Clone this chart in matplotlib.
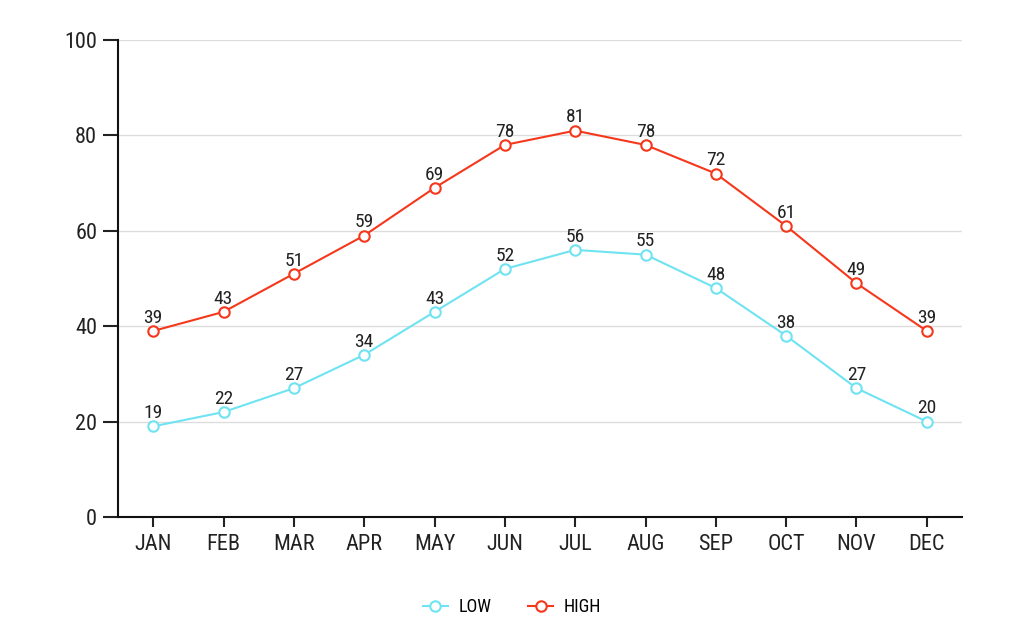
import matplotlib
matplotlib.use('Agg')
import matplotlib.pyplot as plt
from matplotlib import font_manager

months = ['JAN', 'FEB', 'MAR', 'APR', 'MAY', 'JUN', 'JUL', 'AUG', 'SEP', 'OCT', 'NOV', 'DEC']
low = [19, 22, 27, 34, 43, 52, 56, 55, 48, 38, 27, 20]
high = [39, 43, 51, 59, 69, 78, 81, 78, 72, 61, 49, 39]
yticks = [0, 20, 40, 60, 80, 100]

names = {f.name for f in font_manager.fontManager.ttflist}
fam = [f for f in ['Roboto Condensed', 'Roboto', 'DejaVu Sans'] if f in names]
plt.rcParams['font.family'] = fam

low_color = '#6fe3f2'
high_color = '#f5371b'

fig = plt.figure(figsize=(10.24, 6.4), dpi=100)
ax = fig.add_axes([118/1024, 123/640, (962-118)/1024, (517-40)/640])

x = list(range(len(months)))
ax.plot(x, low, color=low_color, lw=1.5, marker='o', ms=7.5, mfc='white', mec=low_color, mew=1.5, label='LOW', zorder=3)
ax.plot(x, high, color=high_color, lw=1.5, marker='o', ms=7.5, mfc='white', mec=high_color, mew=1.5, label='HIGH', zorder=3)

for xi, v in zip(x, low):
    ax.annotate(str(v), (xi, v), xytext=(0, 3), textcoords='offset points', ha='center', va='bottom', fontsize=14, color='#222222')
for xi, v in zip(x, high):
    ax.annotate(str(v), (xi, v), xytext=(0, 3), textcoords='offset points', ha='center', va='bottom', fontsize=14, color='#222222')

ax.set_xlim(-0.5, 11.5)
ax.set_ylim(0, 100)
ax.set_yticks(yticks)
ax.set_xticks(x)
ax.set_xticklabels(months)
ax.tick_params(axis='both', labelsize=16, colors='#222222', width=1.5)
ax.tick_params(axis='y', length=11, pad=4)
ax.tick_params(axis='x', length=7, pad=5.5)
ax.yaxis.grid(True, color='#dddddd', lw=1)
ax.set_axisbelow(True)
for s in ['top', 'right']:
    ax.spines[s].set_visible(False)
for s in ['left', 'bottom']:
    ax.spines[s].set_linewidth(1.5)
    ax.spines[s].set_color('#111111')

handles, labels = ax.get_legend_handles_labels()
fig.legend(handles, labels, loc='center', bbox_to_anchor=(0.5, 1 - 607/640), ncol=2, frameon=False, fontsize=13,
           handlelength=1.4, handletextpad=0.6, columnspacing=2.0)

fig.savefig('out.png', dpi=100)
